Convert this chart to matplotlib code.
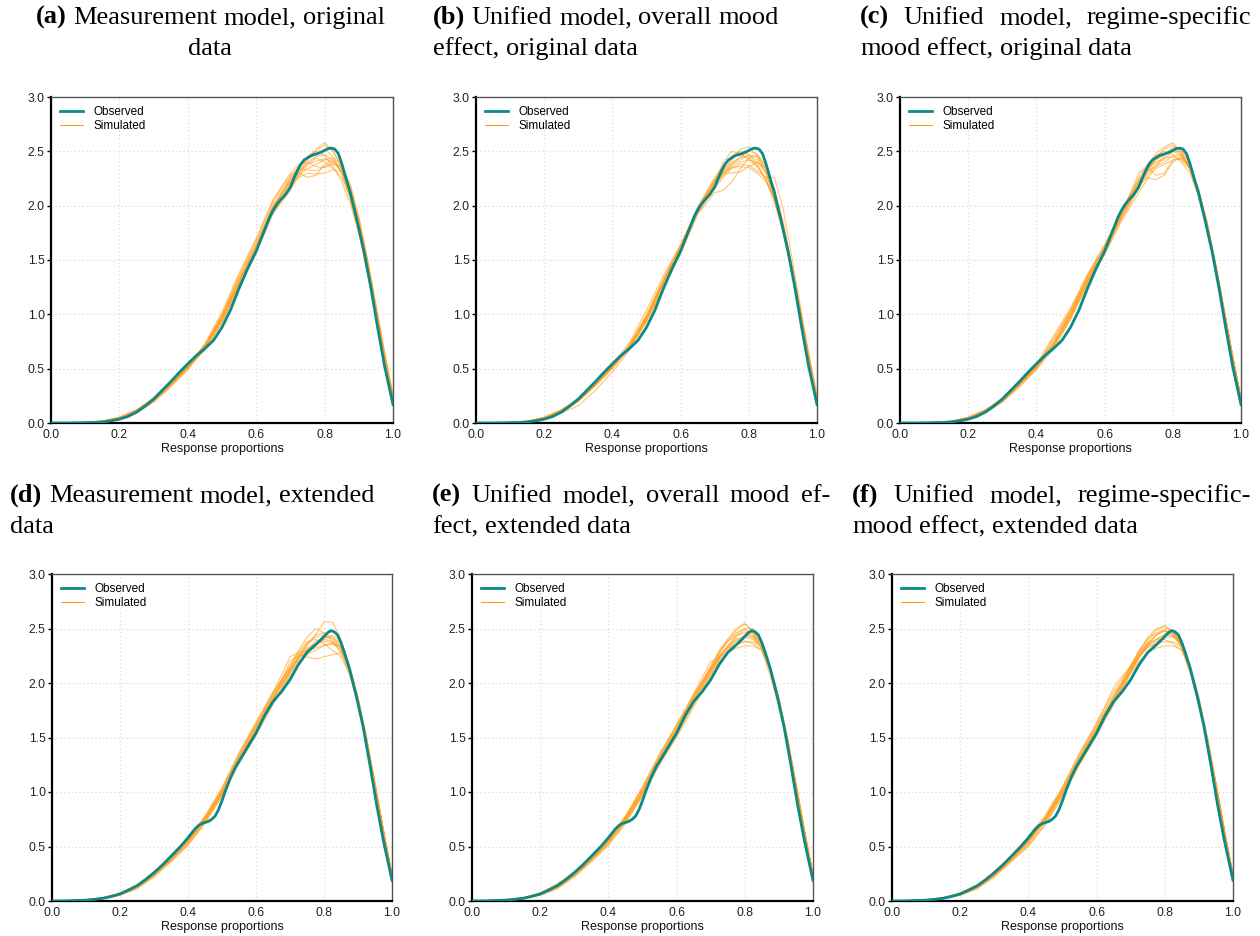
import numpy as np
import matplotlib
matplotlib.use("Agg")
import matplotlib.pyplot as plt

# ---------------- data ----------------
OBS_X_ORIG = [0, 0.05, 0.1, 0.125, 0.15, 0.175, 0.2, 0.225, 0.25, 0.275, 0.3, 0.325, 0.35, 0.375,
              0.4, 0.425, 0.45, 0.475, 0.5, 0.525, 0.55, 0.575, 0.6, 0.625, 0.64, 0.65, 0.66, 0.67,
              0.685, 0.7, 0.71, 0.72, 0.73, 0.74, 0.75, 0.76, 0.78, 0.795, 0.81, 0.82, 0.83, 0.84,
              0.85, 0.86, 0.875, 0.895, 0.915, 0.935, 0.955, 0.975, 1.0]
OBS_Y_ORIG = [0, 0.0, 0.002, 0.005, 0.01, 0.02, 0.035, 0.06, 0.10, 0.155, 0.22, 0.30, 0.38, 0.465,
              0.545, 0.62, 0.685, 0.76, 0.88, 1.04, 1.24, 1.42, 1.58, 1.78, 1.90, 1.96, 2.01, 2.05,
              2.10, 2.17, 2.25, 2.32, 2.38, 2.42, 2.44, 2.46, 2.48, 2.50, 2.525, 2.53, 2.52, 2.48,
              2.39, 2.28, 2.12, 1.86, 1.58, 1.25, 0.88, 0.53, 0.17]

OBS_X_EXT = [0, 0.05, 0.1, 0.125, 0.15, 0.175, 0.2, 0.225, 0.25, 0.275, 0.3, 0.325, 0.35, 0.375,
             0.4, 0.42, 0.43, 0.44, 0.45, 0.46, 0.47, 0.48, 0.49, 0.5, 0.51, 0.525, 0.54, 0.55,
             0.575, 0.6, 0.625, 0.65, 0.675, 0.7, 0.725, 0.75, 0.775, 0.795, 0.81, 0.82, 0.83,
             0.84, 0.85, 0.86, 0.875, 0.895, 0.915, 0.935, 0.955, 0.975, 1.0]
OBS_Y_EXT = [0, 0.002, 0.008, 0.015, 0.025, 0.042, 0.065, 0.10, 0.14, 0.195, 0.26, 0.33, 0.41, 0.49,
             0.58, 0.66, 0.69, 0.71, 0.72, 0.73, 0.75, 0.78, 0.84, 0.92, 1.01, 1.13, 1.23, 1.28,
             1.41, 1.54, 1.70, 1.83, 1.92, 2.03, 2.17, 2.28, 2.35, 2.41, 2.46, 2.48, 2.47,
             2.44, 2.37, 2.28, 2.13, 1.88, 1.60, 1.25, 0.88, 0.55, 0.19]

SIM_X = [0, 0.1, 0.15, 0.2, 0.25, 0.3, 0.35, 0.4, 0.45, 0.5, 0.55, 0.6, 0.65, 0.7, 0.725, 0.75,
         0.775, 0.8, 0.825, 0.85, 0.875, 0.9, 0.925, 0.95, 0.975, 1.0]

SIM_A = [
    [0,0.004,0.012,0.04,0.10,0.20,0.35,0.51,0.70,0.97,1.30,1.62,1.99,2.22,2.32,2.40,2.45,2.47,2.42,2.30,2.08,1.78,1.42,1.02,0.60,0.21],
    [0,0.006,0.016,0.05,0.12,0.22,0.37,0.53,0.72,1.00,1.34,1.66,2.02,2.26,2.36,2.44,2.50,2.56,2.50,2.36,2.12,1.84,1.48,1.06,0.63,0.23],
    [0,0.005,0.014,0.045,0.11,0.21,0.36,0.50,0.68,0.93,1.26,1.58,1.94,2.16,2.26,2.30,2.29,2.30,2.33,2.31,2.16,1.88,1.50,1.07,0.62,0.22],
    [0,0.003,0.010,0.035,0.09,0.19,0.33,0.49,0.69,0.96,1.31,1.63,1.98,2.24,2.36,2.45,2.50,2.46,2.36,2.22,2.02,1.74,1.38,0.98,0.58,0.20],
    [0,0.007,0.018,0.055,0.12,0.23,0.38,0.54,0.71,0.95,1.28,1.60,1.96,2.20,2.28,2.34,2.38,2.42,2.44,2.38,2.18,1.88,1.50,1.08,0.65,0.25],
    [0,0.005,0.013,0.042,0.10,0.20,0.34,0.50,0.70,0.99,1.36,1.68,2.05,2.28,2.34,2.33,2.32,2.36,2.40,2.33,2.12,1.82,1.45,1.04,0.61,0.22],
    [0,0.004,0.012,0.038,0.10,0.21,0.36,0.52,0.67,0.92,1.24,1.57,1.93,2.14,2.30,2.42,2.48,2.52,2.45,2.30,2.06,1.76,1.40,1.00,0.59,0.20],
    [0,0.006,0.015,0.048,0.11,0.22,0.37,0.52,0.73,1.02,1.38,1.70,2.06,2.30,2.38,2.40,2.36,2.35,2.38,2.36,2.20,1.90,1.52,1.10,0.66,0.26],
    [0,0.005,0.014,0.044,0.11,0.21,0.35,0.51,0.69,0.94,1.27,1.59,1.95,2.18,2.28,2.38,2.44,2.40,2.34,2.26,2.08,1.80,1.44,1.03,0.61,0.22],
    [0,0.004,0.011,0.04,0.10,0.20,0.35,0.52,0.71,0.98,1.32,1.64,2.00,2.21,2.31,2.38,2.41,2.43,2.40,2.32,2.12,1.83,1.47,1.05,0.62,0.23],
    [0,0.006,0.017,0.052,0.12,0.23,0.38,0.53,0.70,0.96,1.29,1.61,1.97,2.25,2.30,2.26,2.28,2.38,2.42,2.35,2.14,1.84,1.46,1.04,0.62,0.22],
    [0,0.005,0.013,0.043,0.10,0.21,0.36,0.52,0.71,0.97,1.31,1.63,2.00,2.23,2.34,2.44,2.52,2.58,2.50,2.34,2.10,1.80,1.44,1.03,0.61,0.22],
]
SIM_B = [
    [0,0.005,0.014,0.045,0.11,0.21,0.36,0.52,0.71,0.98,1.30,1.62,1.96,2.24,2.36,2.46,2.50,2.47,2.38,2.24,2.04,1.77,1.42,1.02,0.60,0.21],
    [0,0.006,0.016,0.05,0.12,0.22,0.37,0.54,0.74,1.04,1.36,1.64,1.98,2.22,2.40,2.50,2.48,2.42,2.36,2.25,2.05,1.78,1.43,1.03,0.61,0.22],
    [0,0.004,0.011,0.038,0.09,0.16,0.30,0.47,0.67,0.93,1.24,1.56,1.92,2.12,2.14,2.22,2.34,2.44,2.46,2.36,2.14,1.84,1.47,1.06,0.63,0.23],
    [0,0.005,0.013,0.042,0.10,0.20,0.35,0.51,0.70,0.96,1.28,1.60,1.95,2.20,2.30,2.35,2.36,2.35,2.30,2.22,2.08,1.82,1.46,1.05,0.62,0.22],
    [0,0.006,0.017,0.055,0.12,0.23,0.38,0.53,0.71,0.97,1.30,1.61,1.94,2.18,2.28,2.38,2.45,2.50,2.48,2.36,2.12,1.82,1.45,1.04,0.61,0.21],
    [0,0.004,0.012,0.04,0.10,0.20,0.34,0.50,0.69,0.95,1.26,1.58,1.93,2.16,2.26,2.34,2.38,2.37,2.32,2.26,2.26,1.98,1.55,1.10,0.66,0.26],
    [0,0.005,0.014,0.046,0.11,0.21,0.36,0.52,0.72,1.00,1.33,1.64,1.97,2.23,2.33,2.40,2.44,2.46,2.42,2.30,2.08,1.79,1.43,1.02,0.60,0.21],
    [0,0.006,0.015,0.048,0.11,0.22,0.37,0.53,0.70,0.94,1.25,1.57,1.94,2.20,2.32,2.42,2.52,2.54,2.46,2.30,2.06,1.76,1.40,1.00,0.59,0.20],
    [0,0.005,0.013,0.043,0.10,0.20,0.35,0.51,0.71,0.99,1.32,1.63,1.97,2.24,2.30,2.30,2.31,2.36,2.40,2.34,2.16,1.86,1.48,1.06,0.63,0.23],
    [0,0.004,0.012,0.04,0.10,0.21,0.36,0.52,0.70,0.96,1.29,1.61,1.96,2.19,2.29,2.36,2.40,2.42,2.40,2.31,2.11,1.82,1.46,1.04,0.62,0.22],
    [0,0.006,0.016,0.05,0.12,0.22,0.37,0.52,0.69,0.95,1.30,1.62,1.99,2.26,2.37,2.45,2.47,2.44,2.36,2.24,2.04,1.76,1.41,1.01,0.60,0.21],
    [0,0.005,0.014,0.045,0.11,0.21,0.35,0.51,0.70,0.97,1.31,1.63,1.97,2.21,2.31,2.38,2.42,2.47,2.45,2.34,2.12,1.82,1.45,1.04,0.62,0.22],
]
SIM_C = [
    [0,0.005,0.014,0.045,0.11,0.21,0.36,0.52,0.72,0.99,1.32,1.60,1.93,2.20,2.32,2.42,2.48,2.50,2.46,2.36,2.14,1.84,1.47,1.05,0.62,0.22],
    [0,0.006,0.016,0.05,0.12,0.22,0.37,0.54,0.80,1.06,1.36,1.62,1.92,2.30,2.36,2.28,2.30,2.42,2.44,2.36,2.14,1.84,1.46,1.04,0.62,0.22],
    [0,0.004,0.011,0.038,0.09,0.19,0.33,0.49,0.68,0.95,1.27,1.56,1.88,2.16,2.32,2.44,2.52,2.56,2.48,2.33,2.10,1.80,1.44,1.03,0.61,0.21],
    [0,0.005,0.013,0.042,0.10,0.20,0.35,0.51,0.70,0.97,1.30,1.58,1.90,2.18,2.26,2.24,2.28,2.40,2.45,2.38,2.16,1.86,1.48,1.06,0.63,0.23],
    [0,0.006,0.017,0.055,0.12,0.23,0.38,0.53,0.74,1.02,1.34,1.62,1.95,2.26,2.38,2.46,2.50,2.47,2.40,2.30,2.09,1.80,1.44,1.03,0.61,0.21],
    [0,0.004,0.012,0.04,0.10,0.20,0.34,0.50,0.71,0.98,1.28,1.55,1.86,2.12,2.24,2.36,2.46,2.54,2.52,2.38,2.14,1.83,1.46,1.04,0.62,0.22],
    [0,0.005,0.014,0.046,0.11,0.21,0.36,0.52,0.76,1.04,1.37,1.64,1.96,2.24,2.34,2.40,2.44,2.45,2.42,2.34,2.13,1.83,1.46,1.04,0.62,0.22],
    [0,0.006,0.015,0.048,0.11,0.22,0.37,0.53,0.73,1.00,1.31,1.59,1.91,2.19,2.30,2.38,2.43,2.50,2.50,2.38,2.15,1.85,1.47,1.05,0.62,0.22],
    [0,0.005,0.013,0.043,0.10,0.20,0.35,0.51,0.72,1.01,1.33,1.61,1.93,2.22,2.35,2.48,2.54,2.58,2.49,2.34,2.11,1.81,1.45,1.04,0.61,0.21],
    [0,0.004,0.012,0.04,0.10,0.21,0.36,0.52,0.70,0.96,1.29,1.57,1.89,2.17,2.28,2.34,2.38,2.42,2.43,2.36,2.15,1.85,1.47,1.05,0.62,0.22],
    [0,0.006,0.016,0.05,0.12,0.22,0.37,0.52,0.78,1.03,1.35,1.63,1.94,2.23,2.31,2.36,2.40,2.46,2.46,2.36,2.14,1.84,1.46,1.04,0.62,0.22],
    [0,0.005,0.014,0.045,0.11,0.21,0.35,0.51,0.71,0.99,1.31,1.59,1.92,2.21,2.33,2.42,2.47,2.52,2.47,2.35,2.12,1.82,1.45,1.04,0.61,0.21],
]
SIM_D = [
    [0,0.008,0.025,0.06,0.13,0.25,0.40,0.56,0.75,0.98,1.30,1.58,1.86,2.10,2.22,2.30,2.36,2.40,2.38,2.32,2.12,1.84,1.48,1.07,0.64,0.24],
    [0,0.010,0.030,0.07,0.14,0.26,0.41,0.57,0.77,1.02,1.34,1.62,1.90,2.16,2.30,2.42,2.50,2.46,2.38,2.28,2.08,1.80,1.45,1.05,0.63,0.23],
    [0,0.007,0.022,0.055,0.12,0.23,0.37,0.52,0.72,0.97,1.28,1.54,1.82,2.08,2.20,2.26,2.30,2.34,2.36,2.34,2.16,1.87,1.50,1.08,0.65,0.24],
    [0,0.009,0.028,0.065,0.13,0.25,0.39,0.55,0.76,1.00,1.32,1.60,1.88,2.12,2.24,2.34,2.44,2.56,2.56,2.40,2.14,1.83,1.46,1.05,0.62,0.22],
    [0,0.008,0.024,0.06,0.13,0.24,0.38,0.54,0.74,0.99,1.29,1.56,1.84,2.20,2.26,2.24,2.22,2.24,2.26,2.28,2.14,1.87,1.50,1.08,0.65,0.24],
    [0,0.011,0.032,0.075,0.15,0.27,0.42,0.58,0.78,1.04,1.36,1.64,1.92,2.14,2.26,2.36,2.42,2.44,2.40,2.32,2.10,1.82,1.46,1.06,0.63,0.23],
    [0,0.007,0.021,0.052,0.11,0.22,0.36,0.51,0.71,0.96,1.26,1.52,1.80,2.06,2.18,2.30,2.38,2.42,2.42,2.36,2.15,1.86,1.49,1.07,0.64,0.24],
    [0,0.009,0.027,0.065,0.14,0.25,0.40,0.56,0.75,1.01,1.33,1.61,1.89,2.14,2.28,2.38,2.40,2.36,2.30,2.24,2.08,1.82,1.47,1.06,0.64,0.24],
    [0,0.008,0.025,0.06,0.13,0.24,0.39,0.55,0.74,0.99,1.31,1.59,1.87,2.12,2.24,2.32,2.36,2.38,2.37,2.32,2.13,1.85,1.48,1.07,0.64,0.23],
    [0,0.010,0.029,0.07,0.14,0.26,0.40,0.56,0.77,1.03,1.35,1.63,1.91,2.24,2.28,2.30,2.32,2.35,2.36,2.30,2.11,1.83,1.47,1.06,0.63,0.23],
    [0,0.007,0.023,0.056,0.12,0.23,0.37,0.53,0.73,0.98,1.27,1.55,1.83,2.09,2.22,2.36,2.44,2.46,2.42,2.33,2.12,1.84,1.48,1.06,0.63,0.23],
    [0,0.009,0.026,0.062,0.13,0.24,0.38,0.54,0.75,1.00,1.30,1.57,1.85,2.11,2.23,2.31,2.35,2.40,2.44,2.38,2.16,1.86,1.49,1.07,0.64,0.24],
]
SIM_E = [
    [0,0.008,0.025,0.06,0.13,0.25,0.40,0.56,0.75,1.00,1.30,1.56,1.84,2.12,2.26,2.38,2.46,2.50,2.44,2.32,2.10,1.82,1.46,1.06,0.63,0.23],
    [0,0.010,0.030,0.07,0.16,0.26,0.41,0.57,0.77,1.03,1.33,1.60,1.88,2.16,2.30,2.40,2.48,2.54,2.48,2.34,2.10,1.80,1.44,1.04,0.62,0.22],
    [0,0.007,0.022,0.055,0.12,0.23,0.37,0.52,0.72,0.97,1.26,1.50,1.78,2.06,2.20,2.28,2.32,2.34,2.34,2.30,2.14,1.86,1.50,1.08,0.65,0.24],
    [0,0.009,0.028,0.065,0.13,0.25,0.39,0.55,0.76,1.02,1.32,1.60,1.86,2.14,2.28,2.38,2.44,2.46,2.42,2.32,2.12,1.84,1.48,1.07,0.64,0.24],
    [0,0.008,0.024,0.06,0.13,0.24,0.38,0.54,0.74,0.99,1.28,1.57,1.90,2.12,2.24,2.32,2.38,2.42,2.40,2.33,2.13,1.85,1.48,1.07,0.64,0.23],
    [0,0.011,0.032,0.075,0.15,0.27,0.42,0.58,0.78,1.05,1.35,1.62,1.90,2.20,2.22,2.30,2.36,2.38,2.36,2.30,2.11,1.83,1.47,1.06,0.63,0.23],
    [0,0.007,0.021,0.052,0.11,0.22,0.36,0.51,0.71,0.96,1.25,1.52,1.80,2.08,2.22,2.34,2.42,2.48,2.46,2.36,2.14,1.85,1.48,1.07,0.64,0.24],
    [0,0.009,0.027,0.065,0.14,0.25,0.40,0.56,0.76,1.01,1.31,1.58,1.86,2.14,2.28,2.40,2.50,2.55,2.46,2.30,2.06,1.78,1.43,1.04,0.62,0.22],
    [0,0.008,0.025,0.06,0.13,0.24,0.39,0.55,0.74,0.99,1.29,1.55,1.83,2.10,2.24,2.34,2.40,2.43,2.42,2.35,2.15,1.87,1.50,1.08,0.65,0.24],
    [0,0.010,0.029,0.07,0.14,0.26,0.40,0.56,0.77,1.04,1.34,1.61,1.88,2.13,2.25,2.32,2.35,2.38,2.38,2.33,2.13,1.84,1.48,1.07,0.64,0.24],
    [0,0.007,0.023,0.056,0.12,0.23,0.37,0.53,0.73,0.98,1.27,1.54,1.82,2.09,2.22,2.34,2.44,2.50,2.50,2.38,2.14,1.84,1.47,1.06,0.63,0.23],
    [0,0.009,0.026,0.062,0.13,0.24,0.38,0.54,0.75,1.00,1.30,1.57,1.85,2.11,2.24,2.33,2.39,2.44,2.44,2.36,2.14,1.85,1.48,1.07,0.64,0.24],
]
SIM_F = [
    [0,0.008,0.025,0.06,0.13,0.25,0.40,0.56,0.75,1.00,1.31,1.58,1.86,2.13,2.26,2.37,2.44,2.48,2.44,2.34,2.12,1.84,1.48,1.07,0.64,0.23],
    [0,0.010,0.030,0.07,0.14,0.26,0.41,0.57,0.77,1.03,1.34,1.62,1.96,2.16,2.30,2.42,2.50,2.52,2.46,2.33,2.10,1.81,1.45,1.05,0.63,0.22],
    [0,0.007,0.022,0.055,0.12,0.23,0.37,0.51,0.71,0.96,1.26,1.52,1.80,2.08,2.20,2.28,2.32,2.34,2.34,2.30,2.14,1.86,1.50,1.08,0.65,0.24],
    [0,0.009,0.028,0.065,0.13,0.25,0.39,0.55,0.76,1.02,1.32,1.60,1.88,2.14,2.28,2.40,2.46,2.48,2.44,2.34,2.13,1.85,1.48,1.07,0.64,0.24],
    [0,0.008,0.024,0.06,0.13,0.24,0.38,0.54,0.74,0.99,1.29,1.56,1.84,2.12,2.24,2.32,2.38,2.42,2.42,2.35,2.14,1.85,1.48,1.07,0.64,0.23],
    [0,0.011,0.032,0.075,0.15,0.27,0.42,0.59,0.79,1.05,1.36,1.64,1.92,2.16,2.28,2.36,2.40,2.40,2.36,2.30,2.11,1.83,1.47,1.06,0.63,0.23],
    [0,0.007,0.021,0.052,0.11,0.22,0.36,0.50,0.70,0.96,1.25,1.52,1.82,2.10,2.24,2.36,2.44,2.50,2.48,2.36,2.13,1.84,1.47,1.06,0.63,0.23],
    [0,0.009,0.027,0.065,0.14,0.25,0.40,0.56,0.76,1.01,1.31,1.58,1.86,2.15,2.30,2.40,2.48,2.53,2.46,2.31,2.08,1.80,1.44,1.05,0.62,0.22],
    [0,0.008,0.025,0.06,0.13,0.24,0.39,0.55,0.74,0.99,1.29,1.55,1.83,2.11,2.24,2.34,2.40,2.44,2.43,2.36,2.15,1.87,1.50,1.08,0.65,0.24],
    [0,0.010,0.029,0.07,0.14,0.26,0.40,0.56,0.77,1.04,1.34,1.61,1.89,2.14,2.26,2.33,2.36,2.38,2.38,2.33,2.13,1.84,1.48,1.07,0.64,0.24],
    [0,0.007,0.023,0.056,0.12,0.23,0.37,0.53,0.73,0.98,1.27,1.54,1.82,2.10,2.23,2.35,2.44,2.48,2.47,2.37,2.14,1.84,1.47,1.06,0.63,0.23],
    [0,0.009,0.026,0.062,0.13,0.24,0.38,0.54,0.75,1.00,1.30,1.57,1.85,2.12,2.25,2.34,2.40,2.45,2.45,2.37,2.14,1.85,1.48,1.07,0.64,0.24],
]

X_TICKS = [0.0, 0.2, 0.4, 0.6, 0.8, 1.0]
Y_TICKS = [0.0, 0.5, 1.0, 1.5, 2.0, 2.5, 3.0]
X_LABEL = "Response proportions"
LEGEND_LABELS = ["Observed", "Simulated"]

# caption lines: (words, mode) ; words = list of (text, bold)
CAPTIONS = [
    [([("(a)", True), ("Measurement", False), ("model,", False), ("original", False)], "center"),
     ([("data", False)], "center")],
    [([("(b)", True), ("Unified", False), ("model,", False), ("overall", False), ("mood", False)], "left"),
     ([("effect,", False), ("original", False), ("data", False)], "left")],
    [([("(c)", True), ("Unified", False), ("model,", False), ("regime-specific", False)], "justify"),
     ([("mood", False), ("effect,", False), ("original", False), ("data", False)], "left")],
    [([("(d)", True), ("Measurement", False), ("model,", False), ("extended", False)], "left"),
     ([("data", False)], "left")],
    [([("(e)", True), ("Unified", False), ("model,", False), ("overall", False), ("mood", False), ("ef-", False)], "justify"),
     ([("fect,", False), ("extended", False), ("data", False)], "left")],
    [([("(f)", True), ("Unified", False), ("model,", False), ("regime-specific-", False)], "justify"),
     ([("mood", False), ("effect,", False), ("extended", False), ("data", False)], "left")],
]

# ---------------- style ----------------
W, H = 1260, 936
OBS_COLOR = "#0a8a8a"
SIM_COLOR = "#ff9f1c"
SANS = ["Liberation Sans", "DejaVu Sans"]
SERIF = ["Liberation Serif", "DejaVu Serif"]

fig = plt.figure(figsize=(W / 100, H / 100), dpi=100)
fig.patch.set_facecolor("white")

# axes boxes in pixels: (left, top, right, bottom)
AX_BOX = [
    (51, 97, 393, 423), (476, 97, 817, 423), (900, 97, 1241, 423),
    (52, 574, 392, 901), (472, 574, 813, 901), (892, 574, 1233, 901),
]
# caption geometry in pixels: (x_left, x_right, baseline1, baseline2)
CAP_BOX = [
    (0, 420, 24, 55), (433, 840, 24, 55), (860, 1251, 24, 55),
    (10, 420, 502, 533), (432, 830, 502, 533), (852, 1251, 502, 533),
]

SIMS = [SIM_A, SIM_B, SIM_C, SIM_D, SIM_E, SIM_F]
OBS = [(OBS_X_ORIG, OBS_Y_ORIG)] * 3 + [(OBS_X_EXT, OBS_Y_EXT)] * 3

for i, (l, t, r, b) in enumerate(AX_BOX):
    ax = fig.add_axes([l / W, 1 - b / H, (r - l) / W, (b - t) / H])
    for k, sim in enumerate(SIMS[i]):
        ax.plot(SIM_X, sim, color=SIM_COLOR, lw=0.8, alpha=0.6, solid_joinstyle="round",
                label=LEGEND_LABELS[1] if k == 0 else None, zorder=2)
    ox, oy = OBS[i]
    ax.plot(ox, oy, color=OBS_COLOR, lw=2.0, solid_joinstyle="round",
            label=LEGEND_LABELS[0], zorder=3)
    ax.set_xlim(0, 1)
    ax.set_ylim(0, 3)
    ax.set_xticks(X_TICKS)
    ax.set_yticks(Y_TICKS)
    ax.set_xticklabels([f"{v:.1f}" for v in X_TICKS], family=SANS)
    ax.set_yticklabels([f"{v:.1f}" for v in Y_TICKS], family=SANS)
    ax.tick_params(axis="x", length=0, labelsize=8.7, pad=4, colors="#222222")
    ax.tick_params(axis="y", length=3, width=1.0, labelsize=8.7, pad=1.5,
                   colors="black", labelcolor="#222222")
    ax.grid(True, color="#d4d4d4", ls=(0, (1, 2.5)), lw=0.8)
    ax.set_axisbelow(True)
    ax.set_xlabel(X_LABEL, fontsize=9, family=SANS, labelpad=1.5, color="#111111")
    for s in ["left", "bottom"]:
        ax.spines[s].set_color("black")
        ax.spines[s].set_linewidth(1.6)
    for s in ["top", "right"]:
        ax.spines[s].set_color("#555555")
        ax.spines[s].set_linewidth(1.0)
    handles, labels = ax.get_legend_handles_labels()
    order = [labels.index(LEGEND_LABELS[0]), labels.index(LEGEND_LABELS[1])]
    leg = ax.legend([handles[j] for j in order], [labels[j] for j in order],
                    loc="upper left", frameon=False, prop={"family": SANS, "size": 8.5},
                    handlelength=1.9, handletextpad=0.9, labelspacing=0.15,
                    borderaxespad=0.4, bbox_to_anchor=(0.0, 1.0))
    for lh in leg.get_lines():
        lh.set_alpha(1.0)

# captions
CAP_SIZE = 19
renderer = fig.canvas.get_renderer()
space_px = 0.25 * CAP_SIZE * 100 / 72

def draw_line(words, mode, xl, xr, base):
    objs = []
    widths = []
    for w, bold in words:
        t = fig.text(0, 1 - base / H, w, fontsize=CAP_SIZE, family=SERIF,
                     weight="bold" if bold else "normal", va="baseline", ha="left")
        widths.append(t.get_window_extent(renderer).width)
        objs.append(t)
    natural = sum(widths) + space_px * (len(words) - 1)
    if mode == "justify" and len(words) > 1:
        gap = max(space_px, (xr - xl - sum(widths)) / (len(words) - 1))
        x = xl
    elif mode == "center":
        gap = space_px
        x = (xl + xr) / 2 - natural / 2
    else:
        gap = space_px
        x = xl
    for t, w in zip(objs, widths):
        t.set_x(x / W)
        x += w + gap

for (lines, (xl, xr, b1, b2)) in zip(CAPTIONS, CAP_BOX):
    draw_line(lines[0][0], lines[0][1], xl, xr, b1)
    draw_line(lines[1][0], lines[1][1], xl, xr, b2)

fig.savefig("out.png", dpi=100, facecolor="white")
